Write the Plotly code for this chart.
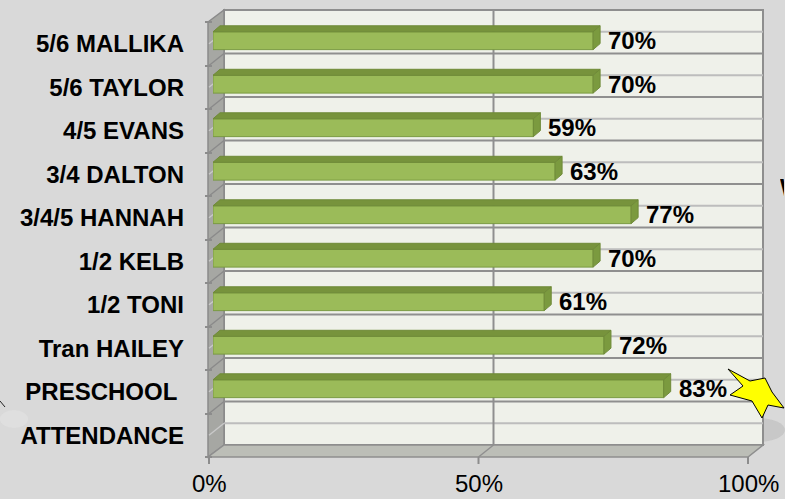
import plotly.graph_objects as go

# ---------------- data ----------------
categories = ["5/6 MALLIKA", "5/6 TAYLOR", "4/5 EVANS", "3/4 DALTON", "3/4/5 HANNAH",
              "1/2 KELB", "1/2 TONI", "Tran HAILEY", "PRESCHOOL\u00a0", "ATTENDANCE"]
values = [70, 70, 59, 63, 77, 70, 61, 72, 83, None]
x_tick_values = [0, 50, 100]
x_tick_labels = ["0%", "50%", "100%"]

# ---------------- geometry (pixels) ----------------
W, H = 785, 499
L, R, T, B = 209, 20, 10, 42
PW, PH = W - L - R, H - T - B


def px(x):
    return (x - L) / PW


def py(y):
    return (H - B - y) / PH


front_left, front_right = 209, 748
front_top, front_bottom = 22, 457
depth_x, depth_y = 15, 12
bar_left, bar_right = 213, 756
n = len(categories)
row_h = (front_bottom - front_top) / n
ypos = list(range(n))

BAR_W = 0.41
BAR_OFF = -0.275
bar_dx = 7 * 100 / (bar_right - bar_left)
bar_dy = 6 / row_h

FONT = "Liberation Sans, Arial, sans-serif"

fig = go.Figure()
fig.add_trace(go.Bar(
    x=values, y=ypos, orientation="h", xaxis="x2", yaxis="y",
    width=BAR_W, offset=BAR_OFF,
    marker=dict(color="#9bbb59", line=dict(color="#7a9a42", width=1)),
    hoverinfo="skip", showlegend=False,
))

shapes = []
# back wall
bw_l, bw_r = front_left + depth_x, front_right + depth_x
bw_t, bw_b = front_top - depth_y, front_bottom - depth_y
shapes.append(dict(type="rect", xref="paper", yref="paper", layer="below",
                   x0=px(bw_l), x1=px(bw_r), y0=py(bw_b), y1=py(bw_t),
                   fillcolor="#eff1ea", line=dict(color="#8e8e8e", width=2)))
# side wall
sw = f"M {px(front_left-1)},{py(front_top)} L {px(bw_l)},{py(bw_t)} L {px(bw_l)},{py(bw_b)} L {px(front_left-1)},{py(front_bottom)} Z"
shapes.append(dict(type="path", xref="paper", yref="paper", layer="below", path=sw,
                   fillcolor="#a6a7a3", line=dict(color="#8a8a8a", width=1.5)))
# floor
fl = f"M {px(front_left-1)},{py(front_bottom)} L {px(front_right)},{py(front_bottom)} L {px(bw_r)},{py(bw_b)} L {px(bw_l)},{py(bw_b)} Z"
shapes.append(dict(type="path", xref="paper", yref="paper", layer="below", path=fl,
                   fillcolor="#bcbeb7", line=dict(color="#8e8e8e", width=1.5)))

# horizontal gridlines (category boundaries dark, centres light)
for k in range(1, 2 * n):
    yb = bw_t + row_h * k / 2
    major = (k % 2 == 0)
    col = "#8f8f8f" if major else "#bdbdbd"
    scol = "#8a8a8a" if major else "#c9c9c9"
    shapes.append(dict(type="line", xref="paper", yref="paper", layer="below",
                       x0=px(bw_l), x1=px(bw_r), y0=py(yb), y1=py(yb),
                       line=dict(color=col, width=2)))
    shapes.append(dict(type="line", xref="paper", yref="paper", layer="below",
                       x0=px(front_left), x1=px(bw_l), y0=py(yb + depth_y), y1=py(yb),
                       line=dict(color=scol, width=1.5)))

annotations = []
# value axis: gridline at 50 %, tick marks and tick labels on the front edge
for v, lab in zip(x_tick_values, x_tick_labels):
    xf = front_left + (front_right - front_left) * v / 100
    if 0 < v < 100:
        shapes.append(dict(type="line", xref="paper", yref="paper", layer="below",
                           x0=px(xf + depth_x), x1=px(xf + depth_x), y0=py(bw_b), y1=py(bw_t),
                           line=dict(color="#8f8f8f", width=2)))
        shapes.append(dict(type="line", xref="paper", yref="paper", layer="below",
                           x0=px(xf), x1=px(xf + depth_x), y0=py(front_bottom), y1=py(bw_b),
                           line=dict(color="#8f8f8f", width=1.5)))
    shapes.append(dict(type="line", xref="paper", yref="paper",
                       x0=px(xf), x1=px(xf), y0=py(front_bottom), y1=py(front_bottom + 7),
                       line=dict(color="#8c8c8c", width=2)))
    annotations.append(dict(x=px(xf), y=py(498), xref="paper", yref="paper",
                            text=lab, showarrow=False, xanchor="center", yanchor="bottom",
                            borderpad=0,
                            font=dict(family=FONT, size=24, color="#000000")))

# 3D faces of bars and value labels
for i, v in zip(ypos, values):
    if v is None:
        continue
    yt = i + BAR_OFF
    yb = yt + BAR_W
    top = f"M 0,{yt} L {v},{yt} L {v + bar_dx},{yt - bar_dy} L {bar_dx},{yt - bar_dy} Z"
    end = f"M {v},{yt} L {v + bar_dx},{yt - bar_dy} L {v + bar_dx},{yb - bar_dy} L {v},{yb} Z"
    shapes.append(dict(type="path", xref="x2", yref="y", path=top,
                       fillcolor="#77933c", line=dict(color="#6f8a38", width=1)))
    shapes.append(dict(type="path", xref="x2", yref="y", path=end,
                       fillcolor="#7b9a3f", line=dict(color="#6f8a38", width=1)))
    annotations.append(dict(x=v, y=i + BAR_OFF + BAR_W / 2, xref="x2", yref="y",
                            text=f"<b>{v}%</b>", showarrow=False, xanchor="left",
                            xshift=13, font=dict(family=FONT, size=24, color="#000000")))

# decorations from the slide (kept inside the page)
shapes.insert(0, dict(type="circle", xref="paper", yref="paper", layer="below",
                      x0=px(730), x1=px(785), y0=py(442), y1=py(418),
                      fillcolor="rgba(120,120,120,0.18)", line=dict(width=0)))
shapes.insert(0, dict(type="circle", xref="paper", yref="paper", layer="below",
                      x0=px(0), x1=px(28), y0=py(428), y1=py(410),
                      fillcolor="rgba(235,235,235,0.35)", line=dict(width=0)))
shapes.append(dict(type="line", xref="paper", yref="paper",
                   x0=px(0), x1=px(5), y0=py(401), y1=py(407),
                   line=dict(color="#222222", width=1)))
star_pts = [(728, 369), (750, 381), (765, 378), (772, 392), (784, 408),
            (768, 405), (762, 418), (752, 401), (730, 395), (743, 386)]
star = "M " + " L ".join(f"{px(a)},{py(b)}" for a, b in star_pts) + " Z"
shapes.append(dict(type="path", xref="paper", yref="paper", path=star,
                   fillcolor="#ffff00", line=dict(color="#000000", width=1)))
# partially visible letter at the right edge (box clipped to a few pixels)
annotations.append(dict(x=px(779), y=py(187), xref="paper", yref="paper",
                        text="<b>W</b>", showarrow=False, xanchor="left", align="left",
                        width=4, borderpad=0,
                        font=dict(family=FONT, size=24, color="#000000")))

fig.update_layout(
    width=W, height=H,
    margin=dict(l=L, r=R, t=T, b=B),
    paper_bgcolor="#d9d9d9", plot_bgcolor="rgba(0,0,0,0)",
    shapes=shapes, annotations=annotations, bargap=0,
    xaxis=dict(domain=[0, px(front_right)], range=[0, 100], anchor="y",
               showticklabels=False, ticks="",
               showgrid=False, zeroline=False, showline=False),
    xaxis2=dict(domain=[px(bar_left), px(bar_right)], range=[0, 100], anchor="y",
                visible=False),
    yaxis=dict(domain=[0, py(front_top)], range=[n - 0.5, -0.5], anchor="x",
               tickvals=ypos, ticktext=categories, ticks="",
               ticklabelstandoff=28, ticklabeloverflow="allow",
               minor=dict(tickvals=[k - 0.5 for k in range(n + 1)], ticks="outside",
                          ticklen=7, tickwidth=2, tickcolor="#8c8c8c", showgrid=False),
               showgrid=False, zeroline=False, showline=False,
               tickfont=dict(family=FONT, size=24, color="#000000", weight="bold")),
)

fig.write_html("out.html", config={"displayModeBar": False, "staticPlot": True},
               post_script="document.body.style.margin='0';document.body.style.overflow='hidden';"
                           "document.documentElement.style.overflow='hidden';")
